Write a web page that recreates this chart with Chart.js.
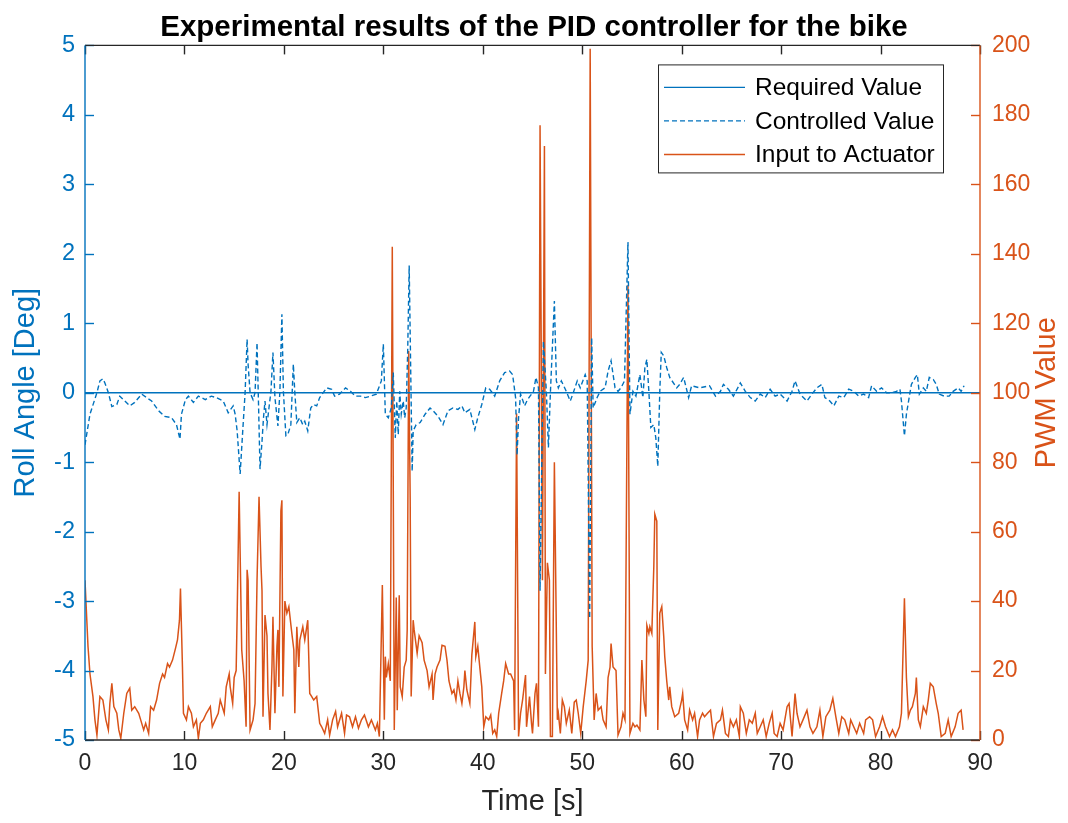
<!DOCTYPE html>
<html>
<head>
<meta charset="utf-8">
<title>PID controller for the bike</title>
<script src="https://cdn.jsdelivr.net/npm/chart.js@4.4.1/dist/chart.umd.min.js"></script>
<style>
  html, body { margin: 0; padding: 0; background: #fff; }
  canvas { display: block; }
</style>
</head>
<body>
<canvas id="chart" width="1068" height="823"></canvas>
<script>
const BLUE = "#0072BD";
const ORANGE = "#D95319";
const GREY = "#262626";
const FONT = "'Liberation Sans', Arial, Helvetica, sans-serif";

// required roll angle (set point)
const requiredTime = [0, 90];
const requiredAngle = [0, 0];

// measured roll angle [deg]
const rollTime = [
  0, 0.5, 1.2, 1.5, 1.8, 2.0, 2.35, 2.7, 3.2, 3.5, 4.0, 4.5, 5.0, 5.7, 6.2, 6.7, 7.4, 8.0, 8.7, 9.2,
  9.55, 9.7, 10.1, 10.4, 10.9, 11.4, 12.1, 12.7, 13.2, 13.9, 14.4, 14.9, 15.1, 15.3, 15.6, 15.9, 16.1, 16.3, 16.4, 16.6,
  16.9, 17.1, 17.3, 17.45, 17.6, 17.8, 17.95, 18.1, 18.3, 18.5, 18.7, 18.9, 19.1, 19.4, 19.6, 19.8, 19.95, 20.2, 20.4, 20.7,
  20.95, 21.1, 21.3, 21.6, 21.9, 22.1, 22.4, 22.7, 22.96, 23.3, 23.6, 24.3, 24.8, 25.1, 25.6, 26.2, 26.7, 27.2, 27.7, 28.2,
  28.7, 29.3, 29.8, 30.0, 30.2, 30.5, 30.8, 31.0, 31.2, 31.35, 31.5, 31.65, 31.8, 32.0, 32.15, 32.3, 32.45, 32.6, 32.9, 33.0,
  33.3, 33.7, 34.2, 34.7, 35.0, 35.5, 36.0, 36.5, 37.0, 37.5, 37.9, 38.2, 38.7, 39.2, 39.5, 39.9, 40.3, 40.7, 41.2, 41.7,
  42.2, 42.7, 43.0, 43.3, 43.45, 43.6, 43.8, 44.0, 44.2, 44.5, 44.75, 45.1, 45.35, 45.6, 45.76, 46.1, 46.4, 46.6, 46.8, 47.2,
  47.4, 47.6, 47.9, 48.3, 48.8, 49.1, 49.5, 49.8, 50.3, 50.5, 50.75, 50.95, 51.1, 51.5, 51.8, 52.3, 52.6, 52.9, 53.3, 53.6,
  53.9, 54.25, 54.6, 54.8, 55.1, 55.4, 55.8, 56.1, 56.3, 56.5, 56.7, 56.9, 57.2, 57.4, 57.6, 57.8, 57.95, 58.2, 58.5, 58.8,
  59.5, 59.8, 60.2, 60.7, 61.0, 61.8, 62.8, 63.4, 63.9, 64.2, 64.7, 65.2, 65.9, 66.4, 66.9, 67.4, 67.9, 68.4, 68.9, 69.4,
  69.9, 70.6, 71.1, 71.4, 71.9, 72.6, 73.1, 73.6, 74.1, 74.4, 74.9, 75.3, 75.8, 76.3, 76.8, 77.3, 77.8, 78.3, 78.8, 79.1,
  79.6, 80.1, 80.6, 81.1, 81.6, 81.95, 82.1, 82.4, 82.6, 82.9, 83.1, 83.5, 83.7, 83.9, 84.3, 84.6, 84.9, 85.3, 85.6, 85.9,
  86.4, 86.9, 87.3, 87.8, 88.1, 88.4
];
const rollAngle = [
  -0.75, -0.31, 0.0, 0.17, 0.2, 0.14, 0.0, -0.2, -0.17, -0.05, -0.12, -0.19, -0.14, -0.02, -0.07, -0.12, -0.26, -0.34, -0.36, -0.46,
  -0.67, -0.31, -0.1, -0.05, -0.14, -0.05, -0.1, -0.05, -0.07, -0.12, -0.29, -0.19, -0.31, -0.55, -1.17, -0.46, 0.0, 0.77, 0.41, 0.0,
  -0.1, 0.0, 0.72, -0.17, -1.1, -0.7, -0.36, -0.12, -0.46, -0.22, 0.02, 0.58, -0.07, -0.48, 0.02, 1.13, 0.02, -0.62, -0.6, -0.46,
  0.41, 0.0, -0.43, -0.36, -0.46, -0.41, -0.55, -0.22, -0.17, -0.19, -0.07, 0.07, 0.05, -0.05, -0.02, 0.07, 0.02, -0.05, -0.05, -0.07,
  -0.05, -0.02, 0.17, 0.7, -0.31, -0.36, -0.22, 0.29, -0.65, -0.12, -0.6, 0.02, -0.31, -0.12, -0.36, -0.22, 0.6, 1.83, -1.13, -0.55,
  -0.46, -0.43, -0.31, -0.22, -0.26, -0.34, -0.46, -0.26, -0.22, -0.24, -0.19, -0.29, -0.24, -0.53, -0.36, -0.17, 0.07, 0.05, -0.05, 0.17,
  0.29, 0.31, 0.26, -0.07, -0.9, -0.36, -0.02, -0.1, -0.19, -0.1, -0.05, 0.02, 0.22, 0.07, -2.85, 0.74, 0.0, -0.79, 0.0, 1.32,
  0.17, 0.07, 0.17, 0.05, -0.12, 0.0, 0.17, 0.07, 0.26, 0.17, -3.25, 0.79, -0.22, -0.07, 0.02, 0.07, 0.31, 0.46, 0.07, 0.02,
  0.07, 0.17, 2.17, -0.31, 0.02, -0.05, 0.26, -0.07, 0.36, 0.48, 0.02, -0.5, -0.46, -0.65, -1.06, 0.02, 0.58, 0.53, 0.36, 0.22,
  0.07, 0.12, 0.22, -0.07, 0.1, 0.07, 0.1, -0.05, 0.02, 0.12, 0.05, -0.05, 0.14, 0.02, -0.07, -0.12, -0.02, -0.07, 0.05, -0.05,
  -0.02, -0.12, 0.02, 0.17, -0.02, -0.12, -0.02, 0.07, 0.12, -0.07, -0.12, -0.19, -0.05, -0.07, 0.05, 0.02, -0.05, -0.02, -0.07, 0.1,
  0.02, 0.07, 0.0, 0.0, 0.02, 0.05, -0.12, -0.62, -0.31, -0.05, 0.12, 0.22, 0.26, -0.02, 0.07, 0.02, 0.22, 0.19, 0.12, -0.02,
  -0.05, -0.05, 0.02, 0.07, 0.02, 0.1
];

// PWM command sent to the actuator
const pwmTime = [
  0, 0.3, 0.5, 0.8, 1.0, 1.2, 1.5, 1.8, 2.1, 2.35, 2.5, 2.7, 2.9, 3.2, 3.4, 3.6, 3.9, 4.2, 4.5, 4.7,
  5.0, 5.4, 5.6, 5.9, 6.1, 6.4, 6.6, 6.9, 7.2, 7.5, 7.8, 8.0, 8.3, 8.5, 8.8, 9.1, 9.3, 9.5, 9.6, 9.8,
  9.9, 10.2, 10.4, 10.7, 10.9, 11.2, 11.4, 11.6, 11.9, 12.2, 12.6, 12.8, 13.1, 13.4, 13.6, 14.0, 14.2, 14.5, 14.6, 14.85,
  15.0, 15.2, 15.3, 15.5, 15.76, 16.0, 16.2, 16.3, 16.4, 16.6, 16.9, 17.1, 17.3, 17.5, 17.7, 17.8, 17.9, 18.1, 18.3, 18.4,
  18.6, 18.8, 18.9, 19.1, 19.3, 19.4, 19.5, 19.7, 19.8, 19.9, 20.1, 20.3, 20.5, 20.8, 21.0, 21.1, 21.3, 21.5, 21.6, 21.9,
  22.1, 22.4, 22.6, 22.8, 23.0, 23.3, 23.6, 23.8, 24.1, 24.4, 24.6, 24.9, 25.2, 25.4, 25.8, 26.1, 26.3, 26.6, 26.9, 27.2,
  27.5, 27.8, 28.1, 28.5, 28.8, 29.2, 29.4, 29.6, 29.9, 30.1, 30.2, 30.3, 30.5, 30.7, 30.9, 31.1, 31.3, 31.4, 31.6, 31.7,
  31.9, 32.1, 32.3, 32.4, 32.55, 32.7, 32.8, 33.0, 33.1, 33.4, 33.6, 33.9, 34.1, 34.4, 34.6, 34.9, 35.0, 35.2, 35.4, 35.7,
  35.9, 36.2, 36.4, 36.6, 36.9, 37.1, 37.3, 37.5, 37.7, 37.9, 38.1, 38.2, 38.4, 38.7, 38.9, 39.2, 39.3, 39.5, 39.7, 39.9,
  40.1, 40.3, 40.6, 40.8, 41.0, 41.2, 41.4, 41.6, 41.9, 42.1, 42.3, 42.6, 42.8, 43.1, 43.2, 43.4, 43.6, 43.8, 44.0, 44.3,
  44.4, 44.7, 44.9, 45.0, 45.25, 45.4, 45.6, 45.76, 46.0, 46.2, 46.3, 46.5, 46.7, 46.8, 47.0, 47.2, 47.5, 47.6, 47.8, 48.0,
  48.2, 48.4, 48.7, 48.95, 49.2, 49.4, 49.6, 49.85, 50.1, 50.4, 50.6, 50.8, 51.0, 51.2, 51.4, 51.6, 51.9, 52.1, 52.4, 52.6,
  52.8, 52.9, 53.1, 53.4, 53.6, 53.9, 54.1, 54.3, 54.6, 54.8, 55.1, 55.3, 55.5, 55.8, 56.0, 56.2, 56.4, 56.5, 56.7, 56.8,
  57.0, 57.2, 57.3, 57.5, 57.6, 57.8, 58.0, 58.2, 58.3, 58.5, 58.7, 58.8, 59.0, 59.3, 59.7, 60.0, 60.1, 60.3, 60.6, 60.8,
  61.1, 61.3, 61.6, 61.8, 62.1, 62.3, 62.6, 62.9, 63.2, 63.5, 63.9, 64.1, 64.4, 64.7, 64.9, 65.2, 65.5, 65.8, 65.9, 66.2,
  66.5, 66.8, 67.1, 67.4, 67.6, 67.9, 68.2, 68.5, 68.8, 69.1, 69.3, 69.6, 69.9, 70.2, 70.6, 70.8, 71.1, 71.4, 71.6, 71.9,
  72.2, 72.6, 72.9, 73.2, 73.6, 73.9, 74.2, 74.5, 74.9, 75.2, 75.5, 75.8, 76.1, 76.4, 76.8, 77.0, 77.3, 77.6, 77.9, 78.3,
  78.5, 78.9, 79.2, 79.5, 79.9, 80.2, 80.5, 80.9, 81.2, 81.5, 81.9, 82.1, 82.4, 82.6, 82.8, 83.0, 83.2, 83.5, 83.6, 83.8,
  84.0, 84.3, 84.6, 84.8, 85.0, 85.3, 85.6, 85.8, 86.1, 86.5, 86.8, 87.1, 87.5, 87.8, 88.1, 88.3
];
const pwmValue = [
  46, 27, 19, 12.5, 5.8, 1.4, 12.5, 11.5, 5.8, 2.9, 10.5, 16.3, 9.6, 7.7, 2.9, 0.5, 7.7, 13.4, 14.9, 8.6,
  9.6, 7.7, 5.8, 2.9, 4.8, 1.9, 9.6, 8.6, 11.5, 16.3, 19, 18, 22, 21, 23, 26.4, 28.8, 34.5, 43.6, 21,
  7.7, 5.8, 9.6, 7.7, 3.8, 5.8, 0.5, 4.8, 5.8, 7.7, 9.6, 3.8, 5.8, 7.7, 11.5, 7.7, 15.3, 19, 15.3, 10.5,
  18, 20, 36, 71.5, 26, 17, 3.8, 49, 46, 2.9, 5.8, 10.5, 46, 70, 50, 43, 6.7, 36, 30, 13.4,
  2.9, 21, 35.5, 7.7, 27, 31.7, 15.3, 66, 69, 12.5, 40, 36.5, 38.4, 30.7, 26, 7.7, 32.6, 21, 28.8, 32.6,
  28.8, 34.5, 13.4, 12.5, 11.5, 12.5, 4.8, 3.8, 1.9, 5.8, 1.4, 5.8, 8.2, 3.8, 7.7, 1.9, 7.2, 6.7, 3.8, 6.7,
  3.4, 5.8, 7.2, 3.8, 5.8, 2.9, 4.8, 1.0, 44.6, 5.8, 24, 18, 22, 17, 142, 2.9, 41, 8.6, 41.7, 15.3,
  12.5, 21, 23, 31.7, 112, 69.5, 12.5, 34.5, 31.7, 25, 30, 28, 23, 20, 15.3, 19, 11.5, 19, 21, 23,
  27.3, 27, 23, 17, 13.4, 14.4, 11.5, 17, 13.4, 10.5, 15.3, 20, 14.4, 10.5, 24.5, 34, 24, 27, 21, 15.3,
  3.8, 6.7, 5.8, 7.2, 1.9, 2.9, 1.0, 7.7, 13.4, 17, 22, 19, 19, 17, 2.9, 94, 1.0, 7.7, 11.5, 18.7,
  3.8, 12.5, 4.8, 1.9, 13.4, 16.3, 3.8, 177, 46, 171, 19, 51, 46, 1.0, 1.0, 80, 5.8, 7.7, 1.9, 11.5,
  9.6, 4.8, 8.6, 1.9, 10.9, 11.5, 7.7, 1.9, 9.6, 17, 23, 199, 27, 5.8, 13.4, 8.6, 9.6, 5.8, 3.8, 18,
  21, 27.8, 21, 20, 1.4, 3.8, 7.7, 5.8, 131, 1.9, 4.8, 3.8, 4.3, 2.9, 23, 11.5, 6.7, 33, 30.7, 32.6,
  30.7, 50, 65, 63, 2.9, 36.5, 38.4, 29.7, 24, 17, 11.5, 15.3, 9.6, 6.7, 7.7, 11.5, 13.4, 5.8, 2.9, 8.6,
  5.8, 7.7, 1.0, 5.8, 7.7, 6.7, 7.7, 8.6, 1.0, 4.8, 5.8, 8.6, 1.9, 1.0, 5.8, 3.8, 5.8, 1.0, 9.6, 7.7,
  1.9, 5.8, 4.8, 7.7, 1.9, 3.8, 5.8, 1.0, 4.8, 7.7, 1.9, 1.0, 4.8, 2.9, 9.6, 10.5, 1.0, 13.4, 7.7, 3.8,
  5.8, 8.6, 3.8, 1.9, 3.8, 8.6, 1.0, 6.7, 8.6, 12, 6.7, 1.9, 6.7, 5.8, 1.9, 5.8, 3.8, 1.9, 4.8, 1.9,
  5.8, 6.7, 5.8, 1.0, 3.8, 6.7, 3.8, 1.0, 2.9, 1.0, 3.8, 7.7, 40.8, 18, 6.7, 8.6, 9.6, 13.4, 18, 5.8,
  3.8, 9.6, 7.7, 11.5, 16.3, 15.3, 10.5, 7.7, 1.0, 1.9, 5.8, 1.0, 3.8, 7.7, 8.6, 2.9
];

const pairs = (xs, ys) => xs.map((x, i) => ({ x: x, y: ys[i] }));

// MATLAB style box with inward ticks on every side
const frame = {
  id: "frame",
  afterDatasetsDraw(chart) {
    const { ctx, chartArea: a, scales } = chart;
    const len = 9;
    const seg = (x1, y1, x2, y2, c) => {
      ctx.strokeStyle = c;
      ctx.beginPath();
      ctx.moveTo(x1, y1);
      ctx.lineTo(x2, y2);
      ctx.stroke();
    };
    ctx.save();
    ctx.lineWidth = 1.4;
    scales.x.ticks.forEach(t => {
      const px = Math.round(scales.x.getPixelForValue(t.value)) + 0.5;
      seg(px, a.bottom, px, a.bottom - len, GREY);
      seg(px, a.top, px, a.top + len, GREY);
    });
    scales.yL.ticks.forEach(t => {
      const py = Math.round(scales.yL.getPixelForValue(t.value)) + 0.5;
      seg(a.left, py, a.left + len, py, BLUE);
    });
    scales.yR.ticks.forEach(t => {
      const py = Math.round(scales.yR.getPixelForValue(t.value)) + 0.5;
      seg(a.right, py, a.right - len, py, ORANGE);
    });
    seg(a.left, a.top, a.right, a.top, GREY);
    seg(a.left, a.bottom, a.right, a.bottom, GREY);
    seg(a.left, a.top, a.left, a.bottom, BLUE);
    seg(a.right, a.top, a.right, a.bottom, ORANGE);
    ctx.restore();
  }
};

// right axis label reads bottom to top, like the left one
const rightLabel = {
  id: "rightLabel",
  afterDraw(chart) {
    const { ctx, chartArea: a } = chart;
    ctx.save();
    ctx.translate(chart.width - 21, (a.top + a.bottom) / 2);
    ctx.rotate(-Math.PI / 2);
    ctx.font = "29px " + FONT;
    ctx.fillStyle = ORANGE;
    ctx.textAlign = "center";
    ctx.textBaseline = "middle";
    ctx.fillText("PWM Value", 0, 0);
    ctx.restore();
  }
};

// boxed legend in the upper right corner
const boxLegend = {
  id: "boxLegend",
  afterDraw(chart) {
    const { ctx, chartArea: a } = chart;
    const w = 285, h = 108;
    const x0 = a.right - 37 - w, y0 = a.top + 19;
    ctx.save();
    ctx.fillStyle = "#fff";
    ctx.fillRect(x0, y0, w, h);
    ctx.strokeStyle = GREY;
    ctx.lineWidth = 1;
    ctx.strokeRect(x0 + 0.5, y0 + 0.5, w, h);
    ctx.font = "24.5px " + FONT;
    ctx.textBaseline = "middle";
    chart.data.datasets.forEach((ds, i) => {
      const y = y0 + 23 + i * 33.5;
      ctx.strokeStyle = ds.borderColor;
      ctx.lineWidth = ds.borderWidth;
      ctx.setLineDash(ds.borderDash || []);
      ctx.beginPath();
      ctx.moveTo(x0 + 6, y);
      ctx.lineTo(x0 + 87, y);
      ctx.stroke();
      ctx.setLineDash([]);
      ctx.fillStyle = "#000";
      ctx.fillText(ds.label, x0 + 97, y + 1);
    });
    ctx.restore();
  }
};

new Chart(document.getElementById("chart"), {
  type: "line",
  data: {
    datasets: [
      {
        label: "Required Value",
        data: pairs(requiredTime, requiredAngle),
        borderColor: BLUE,
        borderWidth: 1.4,
        yAxisID: "yL"
      },
      {
        label: "Controlled Value",
        data: pairs(rollTime, rollAngle),
        borderColor: BLUE,
        borderWidth: 1.4,
        borderDash: [5, 3],
        yAxisID: "yL"
      },
      {
        label: "Input to Actuator",
        data: pairs(pwmTime, pwmValue),
        borderColor: ORANGE,
        borderWidth: 1.5,
        yAxisID: "yR"
      }
    ]
  },
  options: {
    responsive: false,
    animation: false,
    events: [],
    elements: { point: { radius: 0 }, line: { tension: 0 } },
    layout: { padding: 0 },
    plugins: {
      legend: { display: false },
      tooltip: { enabled: false },
      title: {
        display: true,
        text: "Experimental results of the PID controller for the bike",
        color: "#000",
        font: { family: FONT, size: 29.5, weight: "bold" },
        padding: { top: 10, bottom: 0 }
      }
    },
    scales: {
      x: {
        type: "linear",
        min: 0,
        max: 90,
        grid: { display: false, drawTicks: false },
        border: { display: false },
        ticks: { stepSize: 10, color: GREY, padding: 10, font: { family: FONT, size: 23 } },
        title: { display: true, text: "Time [s]", color: GREY, font: { family: FONT, size: 29 }, padding: { bottom: 4 } },
        afterFit: s => { s.height = 83; }
      },
      yL: {
        type: "linear",
        position: "left",
        min: -5,
        max: 5,
        grid: { display: false, drawTicks: false },
        border: { display: false },
        ticks: { stepSize: 1, color: BLUE, padding: 10, font: { family: FONT, size: 23.5 } },
        title: { display: true, text: "Roll Angle [Deg]", color: BLUE, font: { family: FONT, size: 29 }, padding: { top: 9 } },
        afterFit: s => { s.width = 85; }
      },
      yR: {
        type: "linear",
        position: "right",
        min: 0,
        max: 200,
        grid: { display: false, drawTicks: false },
        border: { display: false },
        ticks: { stepSize: 20, color: ORANGE, padding: 12, font: { family: FONT, size: 23 } },
        title: { display: false },
        afterFit: s => { s.width = 88; }
      }
    }
  },
  plugins: [frame, rightLabel, boxLegend]
});
</script>
</body>
</html>
